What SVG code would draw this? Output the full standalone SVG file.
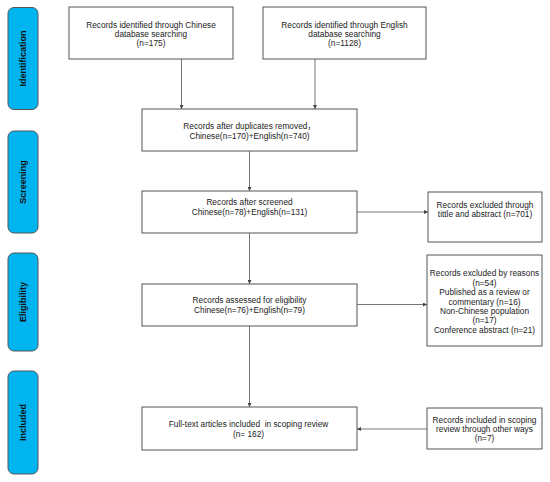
<svg xmlns="http://www.w3.org/2000/svg" width="550" height="482" viewBox="0 0 550 482">
<style>
.box{fill:#fff;stroke:#555;stroke-width:1}
.side{fill:#00b4f0;stroke:#555;stroke-width:1}
.t{font-family:"Liberation Sans","Noto Sans CJK SC",Arial,sans-serif;font-size:8.3px;fill:#222;text-anchor:middle}
.s{font-family:"Liberation Sans",Arial,sans-serif;font-size:9px;font-weight:bold;fill:#111;text-anchor:middle}
.c{stroke:#777;stroke-width:1;fill:none;marker-end:url(#ah)}
</style>
<defs>
<marker id="ah" markerWidth="4" markerHeight="4" refX="4" refY="2" orient="auto" markerUnits="userSpaceOnUse">
<path d="M0,0 L4,2 L0,4 Z" fill="#444"/>
</marker>
</defs>
<rect width="550" height="482" fill="#fff"/>
<g id="stage-identification">
<rect class="side" x="8" y="7.5" width="30" height="102" rx="6"/>
<text class="s" transform="translate(25.5,58.5) rotate(-90)">Identification</text>
</g>
<g id="stage-screening">
<rect class="side" x="8" y="131" width="30" height="102" rx="6"/>
<text class="s" transform="translate(25.5,182) rotate(-90)">Screening</text>
</g>
<g id="stage-eligibility">
<rect class="side" x="8" y="253" width="30" height="98" rx="6"/>
<text class="s" transform="translate(25.5,302) rotate(-90)">Eligibility</text>
</g>
<g id="stage-included">
<rect class="side" x="8" y="371" width="30" height="103" rx="6"/>
<text class="s" transform="translate(25.5,422.5) rotate(-90)">Included</text>
</g>
<g id="connectors">
<line class="c" x1="181.5" y1="59" x2="181.5" y2="109"/>
<line class="c" x1="315" y1="59" x2="315" y2="109"/>
<line class="c" x1="249.5" y1="151" x2="249.5" y2="191"/>
<line class="c" x1="357" y1="212" x2="428" y2="212"/>
<line class="c" x1="249.5" y1="233" x2="249.5" y2="284"/>
<line class="c" x1="357" y1="304.5" x2="427" y2="304.5"/>
<line class="c" x1="249.5" y1="326" x2="249.5" y2="407"/>
<line class="c" x1="427" y1="429" x2="357" y2="429"/>
</g>
<g id="chinese-search">
<rect class="box" x="69" y="7" width="164" height="52"/>
<text class="t" x="151" y="27.5">Records identified through Chinese</text>
<text class="t" x="151" y="36.5">database searching</text>
<text class="t" x="151" y="45.5">(n=175)</text>
</g>
<g id="english-search">
<rect class="box" x="263" y="7" width="163" height="52"/>
<text class="t" x="344.5" y="27.5">Records identified through English</text>
<text class="t" x="344.5" y="36.5">database searching</text>
<text class="t" x="344.5" y="45.5">(n=1128)</text>
</g>
<g id="duplicates-removed">
<rect class="box" x="142" y="109" width="215" height="42"/>
<text class="t" x="249.5" y="128.5">Records after duplicates removed，</text>
<text class="t" x="249.5" y="138.5">Chinese(n=170)+English(n=740)</text>
</g>
<g id="screened">
<rect class="box" x="142" y="191" width="215" height="42"/>
<text class="t" x="249.5" y="205">Records after screened</text>
<text class="t" x="249.5" y="215">Chinese(n=78)+English(n=131)</text>
</g>
<g id="excluded-title-abstract">
<rect class="box" x="428" y="192" width="114" height="50"/>
<text class="t" x="485" y="208">Records excluded through</text>
<text class="t" x="485" y="217">tittle and abstract (n=701)</text>
</g>
<g id="assessed-eligibility">
<rect class="box" x="142" y="284" width="215" height="42"/>
<text class="t" x="249.5" y="303">Records assessed for eligibility</text>
<text class="t" x="249.5" y="313">Chinese(n=76)+English(n=79)</text>
</g>
<g id="excluded-reasons">
<rect class="box" x="427" y="255" width="115" height="91"/>
<text class="t" x="484.5" y="276">Records excluded by reasons</text>
<text class="t" x="484.5" y="285.5">(n=54)</text>
<text class="t" x="484.5" y="295">Published as a review or</text>
<text class="t" x="484.5" y="304.5">commentary (n=16)</text>
<text class="t" x="484.5" y="314">Non-Chinese population</text>
<text class="t" x="484.5" y="323">(n=17)</text>
<text class="t" x="484.5" y="332.5">Conference abstract (n=21)</text>
</g>
<g id="included-review">
<rect class="box" x="142" y="407" width="215" height="43"/>
<text class="t" x="248.5" y="427" xml:space="preserve">Full-text articles included  in scoping review</text>
<text class="t" x="248.5" y="437">(n= 162)</text>
</g>
<g id="other-ways">
<rect class="box" x="427" y="408" width="115" height="41"/>
<text class="t" x="484.5" y="423">Records included in scoping</text>
<text class="t" x="484.5" y="432">review through other ways</text>
<text class="t" x="484.5" y="441">(n=7)</text>
</g>
</svg>
